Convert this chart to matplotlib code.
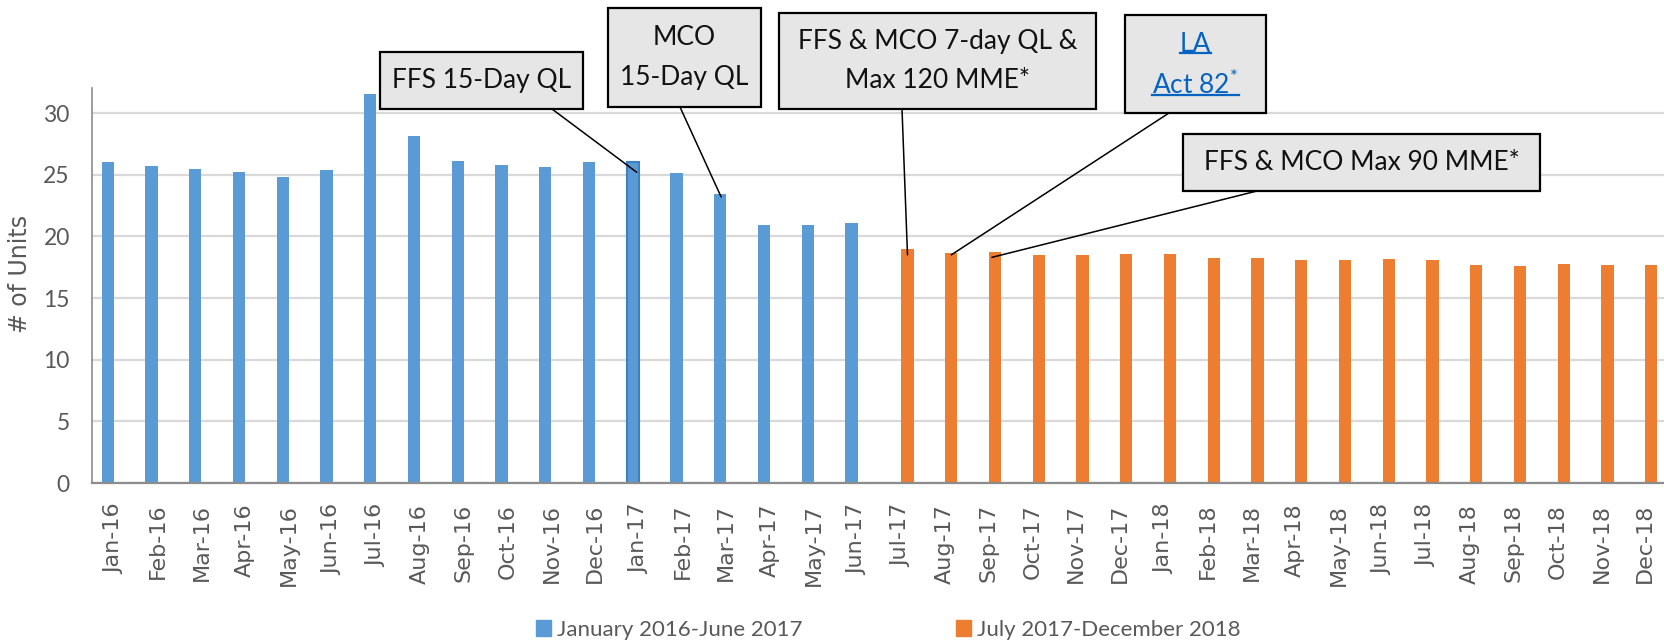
import matplotlib
matplotlib.use("Agg")
import matplotlib.pyplot as plt
import numpy as np
from matplotlib.patches import Patch, Rectangle
from matplotlib.lines import Line2D
from matplotlib.transforms import IdentityTransform

months = ["Jan-16", "Feb-16", "Mar-16", "Apr-16", "May-16", "Jun-16", "Jul-16", "Aug-16",
          "Sep-16", "Oct-16", "Nov-16", "Dec-16", "Jan-17", "Feb-17", "Mar-17", "Apr-17",
          "May-17", "Jun-17", "Jul-17", "Aug-17", "Sep-17", "Oct-17", "Nov-17", "Dec-17",
          "Jan-18", "Feb-18", "Mar-18", "Apr-18", "May-18", "Jun-18", "Jul-18", "Aug-18",
          "Sep-18", "Oct-18", "Nov-18", "Dec-18"]

# units per month, Jan 2016 - Jun 2017
before = [26.0, 25.7, 25.5, 25.2, 24.8, 25.35, 31.55, 28.1, 26.15, 25.8, 25.6, 26.0,
          26.0, 25.1, 23.4, 20.9, 20.9, 21.05]
# units per month, Jul 2017 - Dec 2018
after = [18.95, 18.65, 18.75, 18.5, 18.5, 18.6, 18.6, 18.25, 18.25, 18.05, 18.05, 18.15,
         18.05, 17.7, 17.6, 17.8, 17.7, 17.7]

blue = "#5b9bd5"
orange = "#ed7d31"
grey = "#595959"
link = "#0563c1"
calib = ["Lato", "DejaVu Sans"]
H = 642  # figure height in px, callouts are placed in pixels from the top

plt.rcParams["mathtext.fontset"] = "custom"
plt.rcParams["mathtext.rm"] = "Lato"

fig = plt.figure(figsize=(16.64, 6.42), dpi=100)
ax = fig.add_axes([92 / 1664, 159 / 642, 1575 / 1664, 394.6 / 642])

n1 = len(before)
x1 = np.arange(n1)
x2 = np.arange(n1, n1 + len(after))
w = 0.28
ax.bar(x1 - w / 2, before, width=w, color=blue, zorder=3)
ax.bar(x2 + w / 2, after, width=w, color=orange, zorder=3)
# Jan-17 bar is drawn with a darker outline in the original
ax.bar(12 - w / 2, before[12], width=w, color=blue, edgecolor="#3f7fbf", lw=1.5, zorder=4)

ax.set_xlim(-0.5, 35.5)
ax.set_ylim(0, 32)
ax.set_yticks(range(0, 31, 5))
ax.set_xticks(range(len(months)))
ax.set_xticklabels(months, rotation=90, fontsize=16, color=grey, family="DejaVu Sans")
for lab in ax.get_yticklabels():
    lab.set_fontsize(16.5)
    lab.set_color(grey)
    lab.set_family(calib)
ax.tick_params(axis="both", length=0)
ax.tick_params(axis="y", pad=16)
ax.tick_params(axis="x", pad=15)
ax.grid(axis="y", color="#d9d9d9", lw=1.6, zorder=0)
for s in ("top", "right"):
    ax.spines[s].set_visible(False)
ax.spines["bottom"].set_color("#8c8c8c")
ax.spines["bottom"].set_linewidth(1.6)
ax.spines["bottom"].set_zorder(5)
ax.spines["left"].set_color("#8c8c8c")
ax.spines["left"].set_linewidth(1.2)
ax.set_ylabel("# of Units", fontsize=17, color=grey, family="DejaVu Sans")
ax.yaxis.set_label_coords(-0.038, 0.53)


def callout(lines, x0, y0, x1, y1, start, xy, color="#111111"):
    # box and text in figure pixels (from top-left), leader line to a bar in data coords
    fig.add_artist(Rectangle((x0, H - y1), x1 - x0, y1 - y0, transform=IdentityTransform(),
                             fc="#e6e6e6", ec="black", lw=1.6, zorder=10))
    cx = (x0 + x1) / 2
    mid = (y0 + y1) / 2
    texts = []
    for k, s in enumerate(lines):
        cy = mid + 40 * (k - (len(lines) - 1) / 2)
        texts.append(fig.text(cx / 1664, (H - cy) / H, s, ha="center", va="center",
                              fontsize=19, family=calib, color=color, zorder=11))
    ax.annotate("", xy=xy, xycoords="data", xytext=(start[0], H - start[1]),
                textcoords="figure pixels", annotation_clip=False, zorder=9,
                arrowprops=dict(arrowstyle="-", color="black", lw=1.1, shrinkA=0, shrinkB=0))
    return texts


callout(["FFS 15-Day QL"], 380, 52, 583, 109, (552, 109), (11.95, 25.2))
callout(["MCO", "15-Day QL"], 608, 8, 761, 107, (680, 107), (13.88, 23.2))
callout(["FFS & MCO 7-day QL &", "Max 120 MME*"], 779, 13, 1096, 109, (902, 109), (18.14, 18.5))
la = callout(["LA", "Act 82$^{*}$"], 1125, 15, 1266, 113, (1169, 113), (19.14, 18.5), color=link)
callout(["FFS & MCO Max 90 MME*"], 1183, 134, 1540, 191, (1257, 191), (20.07, 18.3))

handles = [Patch(color=blue), Patch(color=orange)]
fig.legend(handles, ["January 2016-June 2017", "July 2017-December 2018"], loc="center",
           bbox_to_anchor=(888 / 1664, 12 / 642), ncol=2, frameon=False,
           prop={"family": calib, "size": 16}, labelcolor=grey, handlelength=0.7,
           handleheight=0.7, handletextpad=0.25, columnspacing=6.9)

# underline the hyperlink text
fig.canvas.draw()
r = fig.canvas.get_renderer()
for t in la:
    bb = t.get_window_extent(r)
    fig.add_artist(Line2D([bb.x0, bb.x1], [bb.y0 + 4, bb.y0 + 4], transform=IdentityTransform(),
                          color=link, lw=1.6, zorder=12))

fig.savefig("out.png", dpi=100)
